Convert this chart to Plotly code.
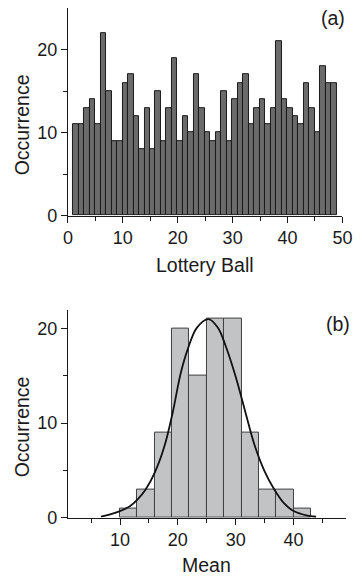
import plotly.graph_objects as go

# ---- Panel (a): occurrence of each lottery ball ----
balls = list(range(1, 49))
ball_counts = [11, 11, 13, 14, 11, 22, 15, 9, 9, 16,
               17, 12, 8, 13, 8, 15, 9, 13, 19, 9,
               12, 10, 17, 13, 10, 9, 10, 15, 9, 14,
               16, 17, 11, 13, 14, 11, 13, 21, 14, 13,
               12, 11, 16, 13, 10, 18, 16, 16]

# ---- Panel (b): histogram of means ----
mean_bin_left = [10, 13, 16, 19, 22, 25, 28, 31, 34, 37, 40]
mean_counts = [1, 3, 9, 20, 15, 21, 21, 9, 3, 3, 1]
bin_width = 3

# fitted curve, points
fit_x = [6.7, 8.3, 10.0, 11.7, 13.0, 14.4, 16.1, 17.7, 19.1, 20.5, 21.7,
         23.3, 25.3, 26.9, 28.3, 30.0, 31.7, 33.3, 35.0, 36.7, 38.3,
         40.0, 42.2, 43.9]
fit_y = [0.1, 0.35, 0.7, 1.2, 1.9, 2.95, 4.9, 7.6, 11.1, 15.3, 17.8,
         20.1, 21.0, 20.1, 18.1, 14.9, 11.1, 7.6, 4.9, 2.95, 1.56,
         0.7, 0.25, 0.1]

W, H = 362, 584
FONT = "Liberation Sans, Arial, sans-serif"
TXT = "#1a1a1a"

def px_x(p):
    return p / W

def px_y(p):
    return 1 - p / H

fig = go.Figure()

fig.add_trace(go.Bar(
    x=balls, y=ball_counts, width=1.0, offset=-0.06,
    marker=dict(color="#6b6b6b", line=dict(color="#1a1a1a", width=1)),
    xaxis="x", yaxis="y", showlegend=False,
))

fig.add_trace(go.Bar(
    x=[b + bin_width / 2 for b in mean_bin_left], y=mean_counts, width=bin_width,
    marker=dict(color="#c2c3c5", line=dict(color="#404040", width=1)),
    xaxis="x2", yaxis="y2", showlegend=False,
))

fig.add_trace(go.Scatter(
    x=fit_x, y=fit_y, mode="lines", line=dict(color="#111111", width=1.8, shape="spline"),
    xaxis="x2", yaxis="y2", showlegend=False,
))

axis_common = dict(
    showline=True, linecolor="#1a1a1a", linewidth=1.3,
    ticks="outside", ticklen=6, tickwidth=1.2, tickcolor="#1a1a1a",
    showgrid=False, zeroline=False, mirror=False,
    ticklabeloverflow="allow",
    tickfont=dict(family=FONT, size=18, color=TXT),
)
minor_common = dict(ticks="outside", ticklen=4, tickwidth=1.1, tickcolor="#1a1a1a")

fig.update_layout(
    width=W, height=H,
    margin=dict(l=0, r=0, t=0, b=0, pad=0),
    paper_bgcolor="white", plot_bgcolor="white",
    bargap=0,
    xaxis=dict(axis_common, domain=[px_x(65.7), px_x(352)], range=[0, 50],
               tickvals=[0, 10, 20, 30, 40, 50], anchor="y",
               minor=dict(minor_common, tickvals=[5, 15, 25, 35, 45])),
    yaxis=dict(axis_common, domain=[px_y(219.3), px_y(8.3)], range=[0, 25],
               tickvals=[0, 10, 20], anchor="x",
               minor=dict(minor_common, tickvals=[5, 15])),
    xaxis2=dict(axis_common, domain=[px_x(65.7), px_x(355.3)], range=[1, 49],
                tickvals=[10, 20, 30, 40], anchor="y2",
                minor=dict(minor_common, tickvals=[5, 15, 25, 35, 45])),
    yaxis2=dict(axis_common, domain=[px_y(526.7), px_y(315)], range=[0, 22],
                tickvals=[0, 10, 20], anchor="x2",
                minor=dict(minor_common, tickvals=[5, 15])),
)

ann_font = dict(family=FONT, size=19.5, color=TXT)
annotations = [
    dict(text="Occurrence", x=px_x(17.5), y=px_y(126.7), textangle=-90),
    dict(text="Occurrence", x=px_x(17.5), y=px_y(434), textangle=-90),
    dict(text="Lottery Ball", x=px_x(209), y=px_y(270)),
    dict(text="Mean", x=px_x(210), y=px_y(575)),
    dict(text="(a)", x=px_x(342), y=px_y(18.5)),
    dict(text="(b)", x=px_x(347.5), y=px_y(330)),
]
for a in annotations:
    fig.add_annotation(xref="paper", yref="paper", showarrow=False,
                       xanchor="center", yanchor="middle", font=ann_font, **a)

fig.write_html(
    "out.html",
    config={"displayModeBar": False},
    post_script="document.body.style.margin='0';document.body.style.padding='0';"
                "document.body.style.overflow='hidden';"
                "document.documentElement.style.overflow='hidden';",
)
